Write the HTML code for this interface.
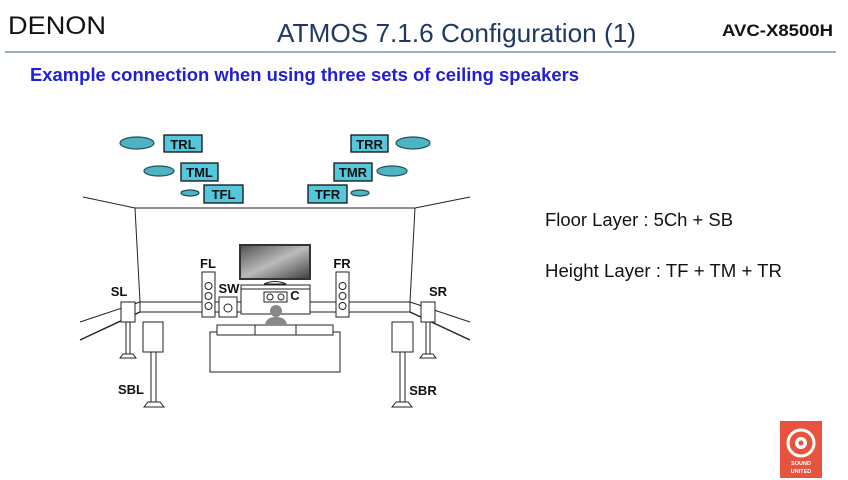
<!DOCTYPE html>
<html><head><meta charset="utf-8"><style>
html,body{margin:0;padding:0;background:#fff;}
svg{display:block;font-family:"Liberation Sans",sans-serif;}
</style></head><body>
<svg width="848" height="480" viewBox="0 0 848 480" xmlns="http://www.w3.org/2000/svg">
<rect width="848" height="480" fill="#fff"/>
<text x="8" y="34" font-size="25" fill="#111" textLength="98" lengthAdjust="spacingAndGlyphs">DENON</text>
<text x="277" y="42" font-size="26" fill="#1f3864" textLength="359" lengthAdjust="spacingAndGlyphs">ATMOS 7.1.6 Configuration (1)</text>
<text x="722" y="36" font-size="17" font-weight="bold" fill="#111" textLength="111" lengthAdjust="spacingAndGlyphs">AVC-X8500H</text>
<line x1="5" y1="52" x2="836" y2="52" stroke="#5a7fa0" stroke-width="1.2"/>
<text x="30" y="81" font-size="18" font-weight="bold" fill="#1f1fd6" textLength="549" lengthAdjust="spacingAndGlyphs">Example connection when using three sets of ceiling speakers</text>

<text x="545" y="226" font-size="18" fill="#111" textLength="188" lengthAdjust="spacingAndGlyphs">Floor Layer : 5Ch + SB</text>
<text x="545" y="277" font-size="18" fill="#111" textLength="237" lengthAdjust="spacingAndGlyphs">Height Layer : TF + TM + TR</text>

<g stroke="#222" stroke-width="1" fill="none">
<!-- room -->
<polyline points="83,197 135,208 415,208 470,197"/>
<line x1="135" y1="208" x2="140" y2="302"/>
<line x1="415" y1="208" x2="410" y2="302"/>
<line x1="140" y1="302" x2="410" y2="302"/>
<line x1="140" y1="312" x2="410" y2="312"/>
<line x1="140" y1="302" x2="140" y2="312"/>
<line x1="410" y1="302" x2="410" y2="312"/>
<line x1="140" y1="302" x2="80" y2="322"/>
<line x1="140" y1="312" x2="80" y2="340" stroke-width="1.5"/>
<line x1="410" y1="302" x2="470" y2="322"/>
<line x1="410" y1="312" x2="470" y2="340" stroke-width="1.5"/>
</g>
<!-- ceiling speakers -->
<g fill="#4fb3c4" stroke="#1d4f5a" stroke-width="1.2">
<ellipse cx="137" cy="143" rx="17" ry="6"/><ellipse cx="159" cy="171" rx="15" ry="5"/><ellipse cx="190" cy="193" rx="9" ry="3"/>
<ellipse cx="413" cy="143" rx="17" ry="6"/><ellipse cx="392" cy="171" rx="15" ry="5"/><ellipse cx="360" cy="193" rx="9" ry="3"/>
</g>
<g fill="#55c7dc" stroke="#111" stroke-width="1.3">
<rect x="164" y="135" width="38" height="17"/><rect x="181" y="163" width="37" height="18"/><rect x="204" y="185" width="39" height="18"/>
<rect x="351" y="135" width="37" height="17"/><rect x="334" y="163" width="38" height="18"/><rect x="308" y="185" width="39" height="18"/>
</g>
<g font-size="13" font-weight="bold" fill="#111" text-anchor="middle">
<text x="183" y="149">TRL</text><text x="199.5" y="177">TML</text><text x="223.5" y="199">TFL</text>
<text x="369.5" y="149">TRR</text><text x="353" y="177">TMR</text><text x="327.5" y="199">TFR</text>
</g>
<!-- TV -->
<defs><linearGradient id="tv" x1="0" y1="0" x2="1" y2="1"><stop offset="0" stop-color="#555"/><stop offset="0.5" stop-color="#bbb"/><stop offset="1" stop-color="#444"/></linearGradient></defs>
<rect x="239" y="244" width="72" height="36" fill="#333"/>
<rect x="241" y="246" width="68" height="32" fill="url(#tv)"/>
<path d="M264 284 Q275 279 286 284 Z" fill="#fff" stroke="#222"/>
<g fill="#fff" stroke="#222" stroke-width="1">
<rect x="241" y="285" width="69" height="4"/>
<rect x="241" y="289" width="69" height="25"/>
<rect x="264" y="292" width="23" height="10"/>
<circle cx="270" cy="297" r="3"/><circle cx="281" cy="297" r="3"/>
<!-- FL FR -->
<rect x="202" y="272" width="13" height="45"/>
<circle cx="208.5" cy="286" r="3.5"/><circle cx="208.5" cy="296" r="3.5"/><circle cx="208.5" cy="306" r="3.5"/>
<rect x="336" y="272" width="13" height="45"/>
<circle cx="342.5" cy="286" r="3.5"/><circle cx="342.5" cy="296" r="3.5"/><circle cx="342.5" cy="306" r="3.5"/>
<!-- SW -->
<rect x="219" y="297" width="18" height="20"/><circle cx="228" cy="308" r="4"/>
<!-- sofa -->
<rect x="210" y="332" width="130" height="40"/>
<rect x="217" y="325" width="116" height="10"/>
<line x1="255" y1="325" x2="255" y2="335"/><line x1="296" y1="325" x2="296" y2="335"/>
<!-- SL SR -->
<rect x="121" y="302" width="14" height="20"/><rect x="126" y="322" width="4" height="32"/><path d="M123 354 h10 l3 4 h-16 z"/>
<rect x="421" y="302" width="14" height="20"/><rect x="426" y="322" width="4" height="32"/><path d="M423 354 h10 l3 4 h-16 z"/>
<!-- SBL SBR -->
<rect x="143" y="322" width="20" height="30"/><rect x="151" y="352" width="5" height="50"/><path d="M148 402 h12 l4 5 h-20 z"/>
<rect x="392" y="322" width="21" height="30"/><rect x="400" y="352" width="5" height="50"/><path d="M396 402 h12 l4 5 h-20 z"/>
</g>
<!-- person -->
<path d="M265 325 Q266 317 276 317 Q286 317 287 325 Z" fill="#888"/>
<circle cx="276" cy="311" r="6" fill="#888"/>
<g font-size="13" font-weight="bold" fill="#111" text-anchor="middle">
<text x="208" y="268">FL</text><text x="342" y="268">FR</text>
<text x="119" y="296">SL</text><text x="229" y="293">SW</text><text x="295" y="300">C</text>
<text x="438" y="296">SR</text><text x="131" y="394">SBL</text><text x="423" y="395">SBR</text>
</g>
<!-- logo -->
<rect x="780" y="421" width="42" height="57" fill="#e8533f"/>
<circle cx="801" cy="443" r="13" fill="none" stroke="#fff" stroke-width="3"/>
<circle cx="801" cy="443" r="6" fill="#fff"/>
<circle cx="801" cy="443" r="2.5" fill="#e8533f"/>
<text x="801" y="465" font-size="5.5" font-weight="bold" fill="#fff" text-anchor="middle">SOUND</text>
<text x="801" y="473" font-size="5.5" font-weight="bold" fill="#fff" text-anchor="middle">UNITED</text>
</svg>
</body></html>
